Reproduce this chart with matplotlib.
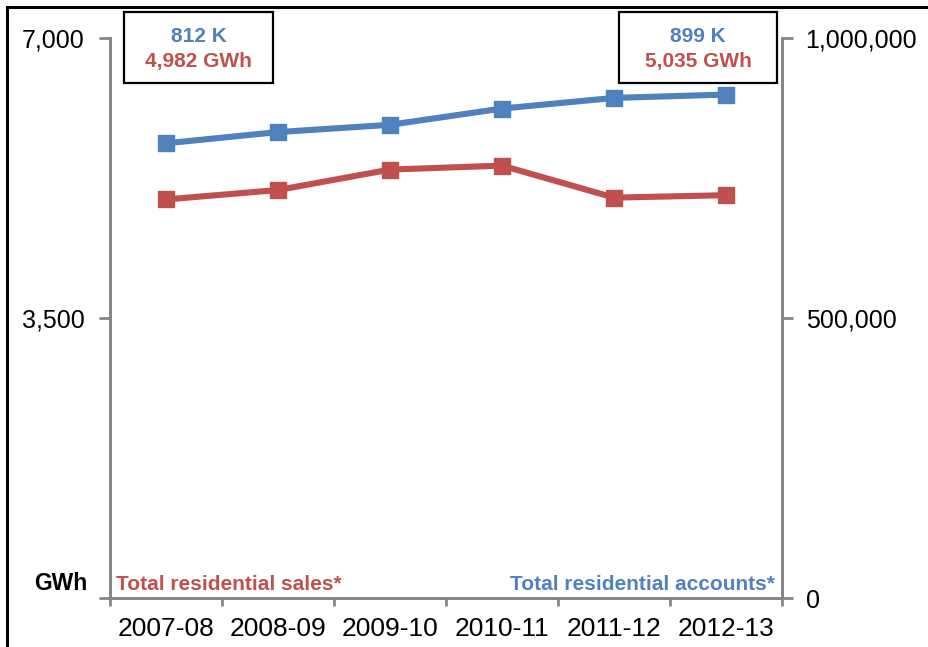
import numpy as np
import matplotlib
matplotlib.use("Agg")
import matplotlib.pyplot as plt
from matplotlib.patches import Rectangle
from matplotlib.lines import Line2D

plt.rcParams['font.family'] = ['Liberation Sans', 'DejaVu Sans']

# Fiscal years and the two residential series
years = ["2007-08", "2008-09", "2009-10", "2010-11", "2011-12", "2012-13"]
sales_gwh = [4982, 5100, 5355, 5405, 5005, 5035]
accounts = [812000, 832000, 845000, 874000, 893000, 899000]

gwh_ticks = [0, 3500, 7000]
gwh_labels = ["", "3,500", "7,000"]
acct_ticks = [0, 500000, 1000000]
acct_labels = ["0", "500,000", "1,000,000"]

RED = "#C0504D"
BLUE = "#4F81BD"
GRAY = "#868686"

W, H = 929, 647
fig = plt.figure(figsize=(W / 100, H / 100), dpi=100)


def fx(x):
    return x / W


def fy(y):
    return 1 - y / H


ax = fig.add_axes([fx(110), fy(598), fx(782) - fx(110), fy(38) - fy(598)])
ax2 = ax.twinx()

x = np.arange(len(years))
ax.plot(x, sales_gwh, color=RED, lw=4.4, marker="s", ms=12, zorder=3)
ax2.plot(x, accounts, color=BLUE, lw=4.4, marker="s", ms=12, zorder=3)

ax.set_xlim(-0.5, len(years) - 0.5)
ax.set_ylim(0, 7000)
ax2.set_ylim(0, 1000000)

# category boundaries carry the tick marks, centres carry the labels
ax.set_xticks(np.arange(-0.5, len(years), 1))
ax.set_xticklabels([""] * (len(years) + 1))
ax.set_xticks(x, minor=True)
ax.set_xticklabels(years, minor=True, fontsize=19)
ax.tick_params(axis="x", which="major", length=6, width=2, color=GRAY, direction="out")
ax.tick_params(axis="x", which="minor", length=0, pad=14)

ax.set_yticks(gwh_ticks)
ax.set_yticklabels(gwh_labels, fontsize=18)
ax.tick_params(axis="y", length=8, width=2, color=GRAY, pad=10)

ax2.set_yticks(acct_ticks)
ax2.set_yticklabels(acct_labels, fontsize=18)
ax2.tick_params(axis="y", length=8, width=2, color=GRAY, pad=9)

for a in (ax, ax2):
    a.spines["top"].set_visible(False)
    for s in ("left", "right", "bottom"):
        a.spines[s].set_color(GRAY)
        a.spines[s].set_linewidth(2)

# series names along the bottom of the plot
fig.text(fx(116), fy(585), "Total residential sales*", color=RED, fontsize=15,
         fontweight="bold", ha="left", va="center")
fig.text(fx(775), fy(585), "Total residential accounts*", color=BLUE, fontsize=15,
         fontweight="bold", ha="right", va="center")
fig.text(fx(87), fy(583), "GWh", color="black", fontsize=16.5,
         fontweight="bold", ha="right", va="center")


def value_box(x0, x1, idx):
    fig.patches.append(Rectangle((fx(x0), fy(83)), fx(x1) - fx(x0), fy(12) - fy(83),
                                 transform=fig.transFigure, fill=False,
                                 edgecolor="black", lw=1.6))
    cx = (x0 + x1) / 2
    fig.text(fx(cx), fy(36), f"{accounts[idx] / 1000:.0f} K", color=BLUE,
             fontsize=15, fontweight="bold", ha="center", va="center")
    fig.text(fx(cx), fy(61.5), f"{sales_gwh[idx]:,} GWh", color=RED,
             fontsize=15, fontweight="bold", ha="center", va="center")


value_box(124, 273, 0)
value_box(619, 777, len(years) - 1)

# outer frame edges
fig.lines.append(Line2D([fx(7), fx(7)], [0, fy(7)], transform=fig.transFigure,
                        color="black", lw=2.2))
fig.lines.append(Line2D([fx(7), 1], [fy(7), fy(7)], transform=fig.transFigure,
                        color="black", lw=2.2))

fig.savefig("out.png", dpi=100)
